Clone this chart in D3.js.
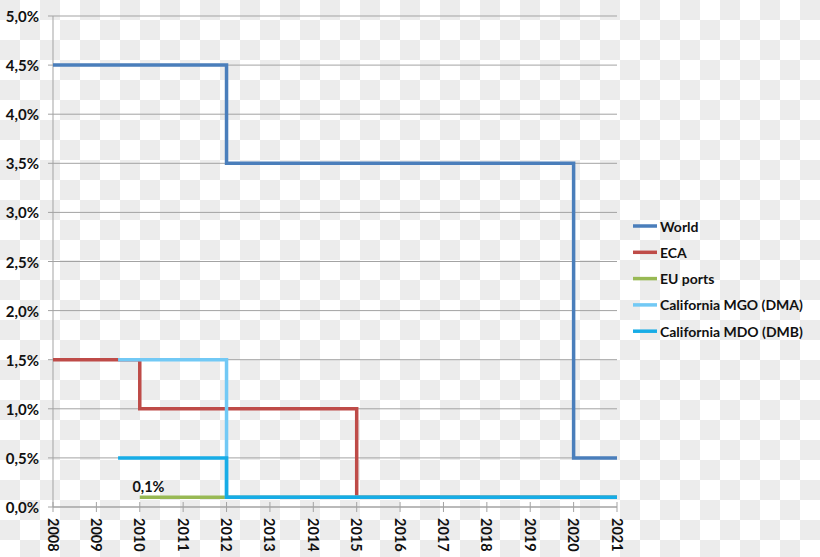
<!DOCTYPE html>
<html>
<head>
<meta charset="utf-8">
<script src="https://cdn.jsdelivr.net/npm/d3@7"></script>
<style>
  html, body { margin: 0; padding: 0; background: #fff; }
  svg { display: block; }
  text { font-family: Lato, "Open Sans", sans-serif; font-weight: bold; fill: #111; }
</style>
</head>
<body>
<svg id="chart" width="820" height="557"></svg>
<script>
// ---- data ----
const seriesNames = ["World", "ECA", "EU ports", "California MGO (DMA)", "California MDO (DMB)"];
const worldYears = [2008, 2012, 2020, 2021];
const worldValues = [4.5, 3.5, 0.5, 0.5];
const ecaYears = [2008, 2010, 2015, 2021];
const ecaValues = [1.5, 1.0, 0.1, 0.1];
const euYears = [2010, 2021];
const euValues = [0.1, 0.1];
const mgoYears = [2009.5, 2012, 2021];
const mgoValues = [1.5, 0.1, 0.1];
const mdoYears = [2009.5, 2012, 2021];
const mdoValues = [0.5, 0.1, 0.1];
const xTickYears = d3.range(2008, 2022);
const yTickValues = [0, 0.5, 1, 1.5, 2, 2.5, 3, 3.5, 4, 4.5, 5];
const annotationText = "0,1%";
const annotationYear = 2010.2;
const annotationValue = 0.1;
const seriesColors = ["#4a7ebb", "#be4b48", "#98b954", "#72c9f5", "#17ace6"];

// ---- layout ----
const W = 820, H = 557;
const margin = { left: 53, right: 203, top: 16, bottom: 50 };
const iw = W - margin.left - margin.right;
const ih = H - margin.top - margin.bottom;

const svg = d3.select("#chart");

// checkerboard background
const defs = svg.append("defs");
const pat = defs.append("pattern").attr("id", "checker")
  .attr("width", 40).attr("height", 40).attr("patternUnits", "userSpaceOnUse");
pat.append("rect").attr("width", 40).attr("height", 40).attr("fill", "#ffffff");
pat.append("rect").attr("x", 0).attr("y", 0).attr("width", 20).attr("height", 20).attr("fill", "#ececec");
pat.append("rect").attr("x", 20).attr("y", 20).attr("width", 20).attr("height", 20).attr("fill", "#ececec");
svg.append("rect").attr("width", W).attr("height", H).attr("fill", "url(#checker)");

const g = svg.append("g").attr("transform", `translate(${margin.left},${margin.top})`);

const x = d3.scaleLinear().domain([2008, 2021]).range([0, iw]);
const y = d3.scaleLinear().domain([0, 5]).range([ih, 0]);

const fmtPct = v => d3.format(".1f")(v).replace(".", ",") + "%";

// gridlines + y labels
g.selectAll("line.grid").data(yTickValues).enter().append("line")
  .attr("class", "grid")
  .attr("x1", -5).attr("x2", iw)
  .attr("y1", d => y(d)).attr("y2", d => y(d))
  .attr("stroke", "#a3a3a3").attr("stroke-width", 1);

g.selectAll("text.ylab").data(yTickValues).enter().append("text")
  .attr("class", "ylab")
  .attr("x", -14).attr("y", d => y(d))
  .attr("text-anchor", "end").attr("dominant-baseline", "central")
  .style("font-size", "15px")
  .text(fmtPct);

// y axis line
g.append("line").attr("x1", 0).attr("x2", 0).attr("y1", 0).attr("y2", ih)
  .attr("stroke", "#a3a3a3").attr("stroke-width", 1);

// x axis line + ticks
g.append("line").attr("x1", 0).attr("x2", iw).attr("y1", ih).attr("y2", ih)
  .attr("stroke", "#a3a3a3").attr("stroke-width", 1);
g.selectAll("line.xtick").data(xTickYears).enter().append("line")
  .attr("class", "xtick")
  .attr("x1", d => x(d)).attr("x2", d => x(d))
  .attr("y1", ih - 5).attr("y2", ih + 5)
  .attr("stroke", "#a3a3a3").attr("stroke-width", 1);
g.selectAll("text.xlab").data(xTickYears).enter().append("text")
  .attr("class", "xlab")
  .attr("transform", d => `translate(${x(d)},${ih + 11}) rotate(90)`)
  .attr("text-anchor", "start").attr("dominant-baseline", "central")
  .style("font-size", "14.5px")
  .text(d => d);

// series
const seriesData = [
  d3.zip(worldYears, worldValues),
  d3.zip(ecaYears, ecaValues),
  d3.zip(euYears, euValues),
  d3.zip(mgoYears, mgoValues),
  d3.zip(mdoYears, mdoValues)
];
const line = d3.line().x(d => x(d[0])).y(d => y(d[1])).curve(d3.curveStepAfter);
seriesData.forEach((s, i) => {
  g.append("path").datum(s)
    .attr("d", line)
    .attr("fill", "none")
    .attr("stroke", seriesColors[i])
    .attr("stroke-width", 3.5)
    .attr("stroke-linejoin", "miter");
});

// annotation
g.append("text")
  .attr("x", x(annotationYear)).attr("y", y(annotationValue) - 5)
  .attr("text-anchor", "middle")
  .style("font-size", "14.5px")
  .text(annotationText);

// legend
const legend = svg.append("g").attr("transform", "translate(633,226)");
seriesNames.forEach((name, i) => {
  const row = legend.append("g").attr("transform", `translate(0,${i * 26.3})`);
  row.append("line").attr("x1", 0).attr("x2", 24).attr("y1", 0).attr("y2", 0)
    .attr("stroke", seriesColors[i]).attr("stroke-width", 3.5);
  row.append("text").attr("x", 27).attr("y", 0)
    .attr("dominant-baseline", "central")
    .style("font-size", "14px")
    .text(name);
});
</script>
</body>
</html>
